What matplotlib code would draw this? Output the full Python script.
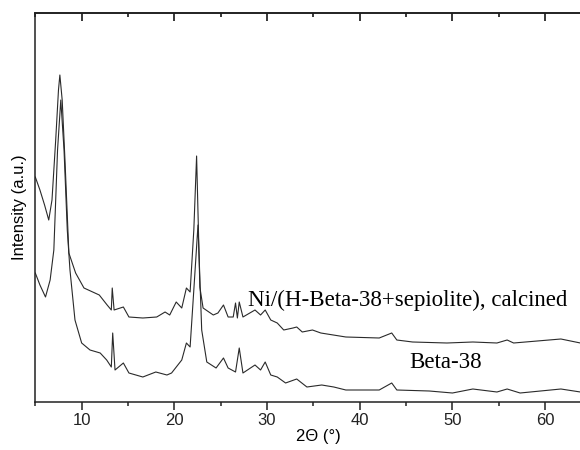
import matplotlib
matplotlib.use("Agg")
import matplotlib.pyplot as plt
from matplotlib.ticker import MultipleLocator

# 2-theta positions and intensities (arbitrary units)
ni_theta = [5.0, 5.5, 6.0, 6.45, 6.8, 7.2, 7.5, 7.65, 7.9, 8.2, 8.62, 9.35, 10.25, 11.9, 12.75,
            13.2, 13.3, 13.5, 14.5, 15.1, 16.6, 18.1, 19.0, 19.5, 20.2, 20.8, 21.3, 21.7, 22.1,
            22.4, 22.75, 23.1, 24.2, 24.7, 25.3, 25.8, 26.35, 26.6, 26.8, 27.0, 27.4, 28.7, 29.3,
            29.8, 30.4, 31.1, 31.8, 32.8, 33.2, 33.8, 34.9, 35.8, 38.5, 42.1, 43.45, 44.0, 45.7,
            49.4, 52.2, 54.8, 55.9, 56.6, 61.7, 63.8]
ni_int = [273, 260, 245, 230, 250, 310, 360, 375, 350, 290, 197, 177, 162, 155, 145,
          140, 162, 140, 143, 133, 132, 133, 138, 135, 148, 142, 162, 158, 220,
          294, 163, 142, 135, 137, 145, 133, 133, 147, 132, 148, 133, 140, 135,
          140, 130, 127, 120, 122, 123, 118, 120, 117, 113, 112, 117, 110, 108,
          107, 108, 107, 110, 107, 111, 107]

beta_theta = [5.0, 5.5, 6.1, 6.6, 7.0, 7.4, 7.75, 8.1, 8.45, 8.74, 9.28, 10.0, 10.9, 12.0, 12.7, 13.2,
              13.35, 13.6, 14.5, 15.1, 16.6, 18.0, 19.2, 19.7, 20.8, 21.3, 21.7, 22.1, 22.55,
              22.95, 23.5, 24.5, 25.3, 25.8, 26.6, 27.0, 27.4, 28.7, 29.3, 29.8, 30.4, 31.1,
              32.0, 33.2, 34.3, 35.9, 37.2, 38.5, 42.1, 43.45, 44.0, 47.5, 50.0, 52.2, 54.8,
              55.9, 57.3, 61.7, 63.8]
beta_int = [177, 165, 153, 170, 200, 300, 350, 300, 220, 180, 130, 107, 100, 97, 90, 83,
            117, 80, 87, 77, 73, 78, 75, 77, 90, 107, 103, 160, 225,
            120, 88, 82, 92, 82, 78, 102, 77, 85, 80, 88, 75, 73,
            67, 71, 63, 65, 63, 60, 60, 67, 60, 59, 57, 61, 58,
            61, 57, 61, 58]

xticks = [10, 20, 30, 40, 50, 60]
label_ni = "Ni/(H-Beta-38+sepiolite), calcined"
label_beta = "Beta-38"

fig = plt.figure(figsize=(5.8, 4.5), dpi=100)
ax = fig.add_axes([35.3 / 580, 48 / 450, 544.7 / 580, 389 / 450])
ax.plot(ni_theta, ni_int, color="#2a2a2a", lw=0.8)
ax.plot(beta_theta, beta_int, color="#2a2a2a", lw=0.8)
ax.set_xlim(5, 63.76)
ax.set_ylim(48, 437)

for s in ["left", "bottom", "top"]:
    ax.spines[s].set_linewidth(1.1)
    ax.spines[s].set_color("#222222")
ax.spines["right"].set_visible(False)

ax.set_xticks(xticks)
ax.xaxis.set_minor_locator(MultipleLocator(5))
ax.tick_params(axis="x", which="major", direction="out", length=6, width=1.1,
               labelsize=12, pad=2, colors="#222222")
ax.tick_params(axis="x", which="minor", direction="out", length=3, width=1.1, colors="#222222")
ax.set_yticks([])
for lab in ax.get_xticklabels():
    lab.set_fontfamily("Liberation Sans")

top = ax.secondary_xaxis("top")
top.set_xticks(xticks)
top.xaxis.set_minor_locator(MultipleLocator(5))
top.tick_params(axis="x", which="major", direction="in", length=6, width=1.1, labeltop=False)
top.tick_params(axis="x", which="minor", direction="in", length=3, width=1.1)
top.spines["top"].set_linewidth(1.1)

ax.set_xlabel("2Θ (°)", fontsize=12, family="Liberation Sans", labelpad=0)
ax.xaxis.set_label_coords((318 - 35.3) / 544.7, -0.07)
ax.set_ylabel("Intensity (a.u.)", fontsize=12, family="Liberation Sans", labelpad=6)

ax.text(45.2, 150, label_ni, fontsize=16.5, family="Liberation Serif", ha="center", va="center")
ax.text(49.3, 88, label_beta, fontsize=16.5, family="Liberation Serif", ha="center", va="center")

fig.savefig("out.png", dpi=100)
